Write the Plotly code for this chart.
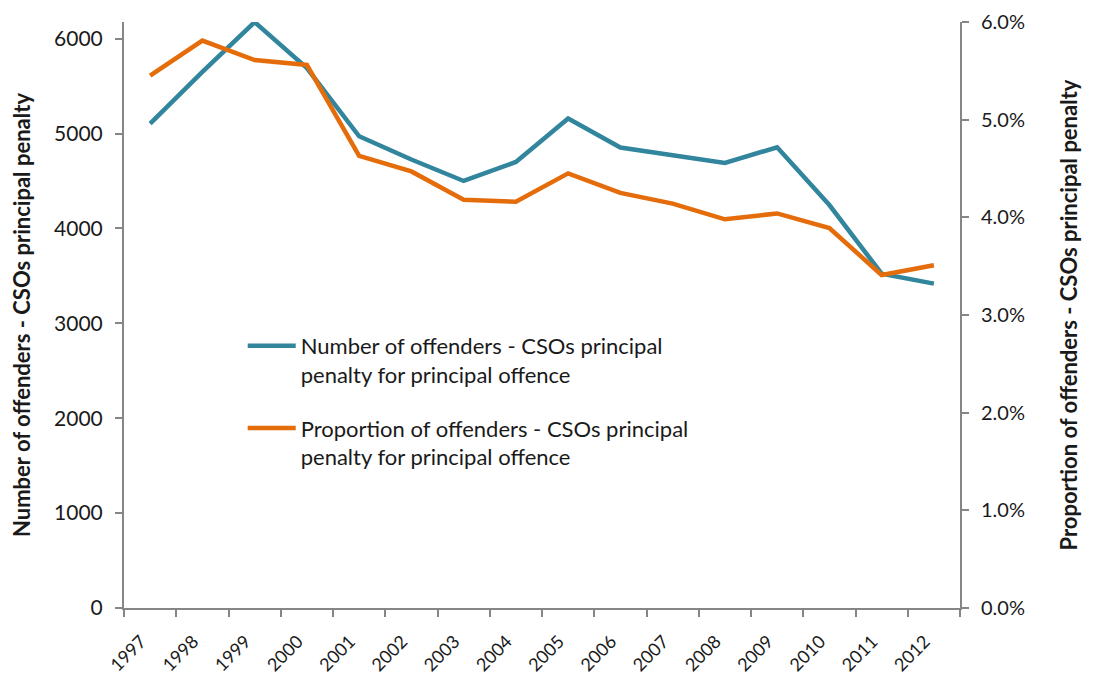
import plotly.graph_objects as go

years = ["1997", "1998", "1999", "2000", "2001", "2002", "2003", "2004",
         "2005", "2006", "2007", "2008", "2009", "2010", "2011", "2012"]
number_offenders = [5105, 5650, 6174, 5690, 4971, 4726, 4500, 4700,
                    5158, 4852, 4771, 4690, 4855, 4246, 3523, 3418]
proportion_offenders = [5.45, 5.81, 5.61, 5.56, 4.63, 4.47, 4.18, 4.16,
                        4.45, 4.25, 4.14, 3.98, 4.04, 3.89, 3.41, 3.51]
left_ticks = [0, 1000, 2000, 3000, 4000, 5000, 6000]
right_ticks = [0, 1, 2, 3, 4, 5, 6]
right_tick_text = ["0.0%", "1.0%", "2.0%", "3.0%", "4.0%", "5.0%", "6.0%"]

name_num = "Number of offenders - CSOs principal<br>penalty for principal offence"
name_prop = "Proportion of offenders - CSOs principal<br>penalty for principal offence"

BLUE = "#31859C"
ORANGE = "#E46C0A"
AXIS = "#868686"
FONT = "Lato, 'Open Sans', sans-serif"

fig = go.Figure()
fig.add_trace(go.Scatter(x=years, y=number_offenders, mode="lines", name=name_num,
                         legendgroup="a", cliponaxis=False,
                         line=dict(color=BLUE, width=4.5), yaxis="y"))
fig.add_trace(go.Scatter(x=years, y=proportion_offenders, mode="lines",
                         name=name_prop, legendgroup="b", cliponaxis=False,
                         line=dict(color=ORANGE, width=4.5), yaxis="y2"))

axis_common = dict(showgrid=False, showline=True, linecolor=AXIS, linewidth=2,
                   ticks="outside", ticklen=7, tickcolor=AXIS, tickwidth=2,
                   zeroline=False, automargin=False)

fig.update_layout(
    width=1098, height=677,
    margin=dict(l=116, r=146, t=14, b=77),
    plot_bgcolor="white", paper_bgcolor="white",
    font=dict(family=FONT, size=21, color="#1a1a1a"),
    xaxis=dict(type="category", tickson="boundaries", tickangle=-45,
               tickfont=dict(size=18), range=[-0.5, 15.5],
               ticklabelstandoff=14, ticklabelshift=-9, **axis_common),
    yaxis=dict(range=[0, 6175], tickvals=left_ticks,
               tickfont=dict(size=21), ticklabelstandoff=8,
               title=dict(text="<b>Number of offenders - CSOs principal penalty</b>",
                          font=dict(size=22), standoff=18), **axis_common),
    yaxis2=dict(range=[0, 6.0001], overlaying="y", side="right",
                tickvals=right_ticks, ticktext=right_tick_text,
                tickfont=dict(size=20), ticklabelstandoff=8, ticklabeloverflow="allow",
                title=dict(text="<b>Proportion of offenders - CSOs principal penalty</b>",
                           font=dict(size=22), standoff=38), **axis_common),
    legend=dict(x=0.142, y=0.483, xanchor="left", yanchor="top", bgcolor="rgba(0,0,0,0)",
                font=dict(size=22), tracegroupgap=22, itemwidth=48, valign="top"),
    showlegend=True,
)

fig.write_html("out.html")
